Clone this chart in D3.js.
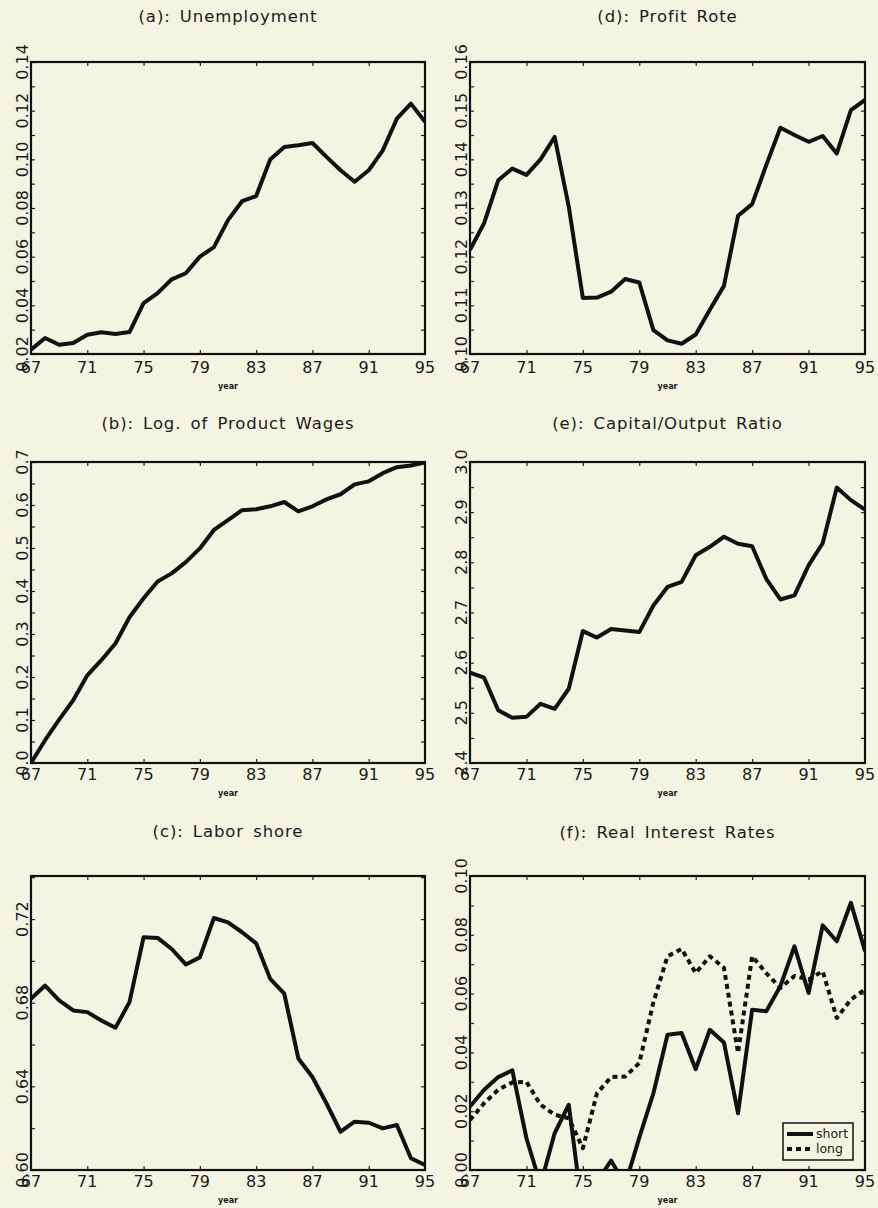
<!DOCTYPE html>
<html><head><meta charset="utf-8">
<script src="https://cdn.jsdelivr.net/npm/d3@7"></script>
<style>
html,body{margin:0;padding:0;background:#f3f4e2;}
svg{display:block;}
text{font-family:"DejaVu Sans","Liberation Sans",sans-serif;fill:#1a1a1a;}
</style></head>
<body>
<svg id="c" width="878" height="1208"></svg>
<script>
const years = d3.range(67, 96);
const yearTicks = [67, 71, 75, 79, 83, 87, 91, 95];

const unemployment = [0.0218,0.0266,0.0238,0.0245,0.0279,0.0289,0.0282,0.0290,0.0409,0.0450,0.0507,0.0532,0.0600,0.0639,0.0750,0.0828,0.0849,0.0999,0.1051,0.1058,0.1067,0.1010,0.0955,0.0908,0.0955,0.1037,0.1167,0.1229,0.1154];
const productWages = [0.000,0.053,0.101,0.146,0.204,0.239,0.278,0.339,0.383,0.422,0.441,0.467,0.499,0.542,0.565,0.588,0.590,0.597,0.607,0.585,0.597,0.613,0.625,0.648,0.655,0.674,0.688,0.692,0.699];
const laborShare = [0.6819,0.6882,0.6811,0.6763,0.6755,0.6715,0.6680,0.6803,0.7113,0.7110,0.7057,0.6983,0.7017,0.7205,0.7184,0.7137,0.7084,0.6914,0.6843,0.6533,0.6445,0.6318,0.6183,0.6231,0.6226,0.6199,0.6215,0.6056,0.6024];
const profitRate = [0.1214,0.1269,0.1357,0.1381,0.1368,0.1400,0.1446,0.1303,0.1115,0.1116,0.1128,0.1154,0.1147,0.1049,0.1028,0.1021,0.1040,0.1091,0.1140,0.1284,0.1308,0.1388,0.1465,0.1450,0.1436,0.1448,0.1412,0.1501,0.1522];
const capitalOutput = [2.580,2.570,2.505,2.490,2.492,2.518,2.508,2.548,2.663,2.650,2.667,2.664,2.661,2.714,2.751,2.761,2.814,2.831,2.851,2.837,2.832,2.767,2.726,2.734,2.794,2.838,2.949,2.924,2.905];
const shortRate = [0.0216,0.0273,0.0316,0.0339,0.0108,-0.0050,0.0125,0.0222,-0.0150,-0.0040,0.0032,-0.0050,0.0110,0.0261,0.0460,0.0466,0.0343,0.0477,0.0434,0.0193,0.0545,0.0540,0.0625,0.0761,0.0602,0.0832,0.0778,0.0909,0.0744];
const longRate = [0.0170,0.0227,0.0273,0.0298,0.0300,0.0222,0.0188,0.0176,0.0074,0.0261,0.0316,0.0318,0.0364,0.0570,0.0727,0.0752,0.0670,0.0727,0.0688,0.0398,0.0727,0.0670,0.0619,0.0660,0.0648,0.0676,0.0517,0.0580,0.0614];

const titles = ["(a): Unemployment","(b): Log. of Product Wages","(c): Labor shore","(d): Profit Rote","(e): Capital/Output Ratio","(f): Real Interest Rates"];
const legendLabels = ["short","long"];

const svg = d3.select("#c");

const panels = [
  {title:titles[0], x0:31, x1:425, y0:62, y1:354, dom:[0.02,0.14], major:d3.range(0.02,0.1401,0.02), minor:d3.range(0.02,0.1401,0.01), fmt:d3.format(".2f"), series:[{v:unemployment}], titleY:22, tickY:373, yearY:389},
  {title:titles[1], x0:31, x1:425, y0:462, y1:763, dom:[0.0,0.7], major:d3.range(0,0.701,0.1), minor:d3.range(0,0.701,0.05), fmt:d3.format(".1f"), series:[{v:productWages}], titleY:429, tickY:780, yearY:796},
  {title:titles[2], x0:31, x1:425, y0:876, y1:1170, dom:[0.60,0.7406], major:d3.range(0.60,0.7201,0.04), minor:d3.range(0.60,0.7401,0.02), fmt:d3.format(".2f"), series:[{v:laborShare}], titleY:837, tickY:1187, yearY:1203},
  {title:titles[3], x0:470, x1:865, y0:62, y1:354, dom:[0.10,0.16], major:d3.range(0.10,0.1601,0.01), minor:d3.range(0.10,0.1601,0.005), fmt:d3.format(".2f"), series:[{v:profitRate}], titleY:22, tickY:373, yearY:389},
  {title:titles[4], x0:470, x1:865, y0:462, y1:763, dom:[2.4,3.0], major:d3.range(2.4,3.001,0.1), minor:d3.range(2.4,3.001,0.05), fmt:d3.format(".1f"), series:[{v:capitalOutput}], titleY:429, tickY:780, yearY:796},
  {title:titles[5], x0:470, x1:865, y0:876, y1:1170, dom:[0.0,0.10], major:d3.range(0,0.1001,0.02), minor:d3.range(0,0.1001,0.01), fmt:d3.format(".2f"), series:[{v:shortRate,dash:null},{v:longRate,dash:"5,4"}], titleY:838, tickY:1187, yearY:1203, legend:true}
];

panels.forEach((p,i)=>{
  const g = svg.append("g");
  const x = d3.scaleLinear().domain([67,95]).range([p.x0,p.x1]);
  const y = d3.scaleLinear().domain(p.dom).range([p.y1,p.y0]);
  const cx = (p.x0+p.x1)/2;

  g.append("text").attr("x",cx).attr("y",p.titleY).attr("text-anchor","middle")
    .style("font-size","16.5px").style("letter-spacing","0.9px").style("word-spacing","3px").text(p.title);

  const clipId = "clip"+i;
  svg.append("clipPath").attr("id",clipId).append("rect")
    .attr("x",p.x0).attr("y",p.y0).attr("width",p.x1-p.x0).attr("height",p.y1-p.y0);

  // lines
  const line = d3.line().x((d,j)=>x(years[j])).y(d=>y(d));
  p.series.forEach(s=>{
    g.append("path").datum(s.v).attr("clip-path",`url(#${clipId})`)
      .attr("d",line).attr("fill","none").attr("stroke","#111")
      .attr("stroke-width",4).attr("stroke-linejoin","round")
      .attr("stroke-dasharray",s.dash||null);
  });

  // axes with inward ticks
  const tickLen = 4;
  const axB = d3.axisBottom(x).tickValues(yearTicks.slice(1,-1)).tickSize(-tickLen).tickFormat("");
  const axT = d3.axisTop(x).tickValues(yearTicks.slice(1,-1)).tickSize(-tickLen).tickFormat("");
  const axL = d3.axisLeft(y).tickValues(p.minor).tickSize(-tickLen).tickFormat("");
  const axR = d3.axisRight(y).tickValues(p.minor).tickSize(-tickLen).tickFormat("");
  [[axB,`translate(0,${p.y1})`],[axT,`translate(0,${p.y0})`],[axL,`translate(${p.x0},0)`],[axR,`translate(${p.x1},0)`]].forEach(([a,t])=>{
    const ag = g.append("g").attr("transform",t).call(a);
    ag.select(".domain").remove();
    ag.selectAll("line").attr("stroke","#222").attr("stroke-width",1.2);
  });

  g.append("rect").attr("x",p.x0).attr("y",p.y0).attr("width",p.x1-p.x0).attr("height",p.y1-p.y0)
    .attr("fill","none").attr("stroke","#111").attr("stroke-width",2.2);

  // x tick labels
  g.selectAll(null).data(yearTicks).enter().append("text")
    .attr("x",d=>x(d)).attr("y",p.tickY).attr("text-anchor","middle")
    .style("font-size","16px").text(d=>d);

  // y tick labels rotated
  g.selectAll(null).data(p.major).enter().append("text")
    .attr("transform",d=>`translate(${p.x0-3},${y(d)}) rotate(-90)`)
    .attr("text-anchor","middle").style("font-size","16px").text(d=>p.fmt(d));

  g.append("text").attr("x",cx).attr("y",p.yearY).attr("text-anchor","middle")
    .style("font-size","8px").style("font-weight","bold").text("year");

  if(p.legend){
    const lx=783, ly=1123, lw=70, lh=37;
    const lg = g.append("g");
    lg.append("rect").attr("x",lx).attr("y",ly).attr("width",lw).attr("height",lh)
      .attr("fill","#f3f4e2").attr("stroke","#111").attr("stroke-width",1.5);
    p.series.forEach((s,k)=>{
      const yy = ly+11+k*15;
      lg.append("line").attr("x1",lx+4).attr("x2",lx+30).attr("y1",yy).attr("y2",yy)
        .attr("stroke","#111").attr("stroke-width",4).attr("stroke-dasharray",s.dash||null);
      lg.append("text").attr("x",lx+33).attr("y",yy+4).style("font-size","12.5px").text(legendLabels[k]);
    });
  }
});
</script>
</body></html>
